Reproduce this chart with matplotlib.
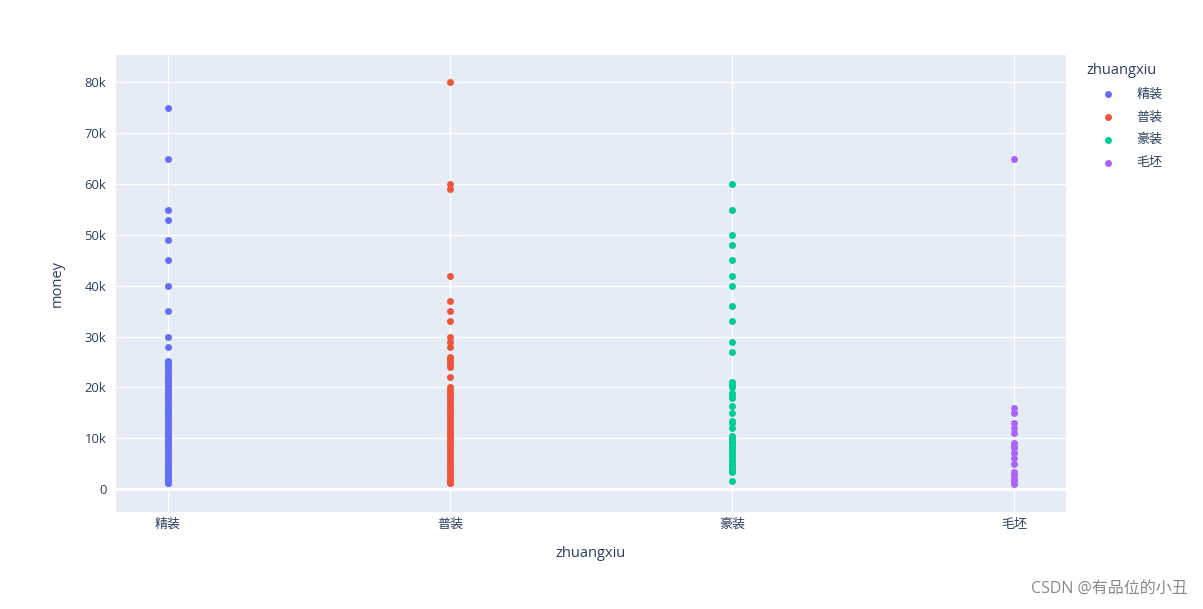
import matplotlib
matplotlib.use("Agg")
import matplotlib.pyplot as plt

plt.rcParams['font.family'] = ['Open Sans', 'Noto Sans CJK SC', 'DejaVu Sans']

categories = ['精装', '普装', '豪装', '毛坯']
colors = ['#636efa', '#EF553B', '#00cc96', '#ab63fa']

jingzhuang = [75000, 65000, 55000, 53000, 49000, 45000, 40000, 35000, 30000, 28000,
              25200, 25000, 24500, 24000, 23500, 23000, 22500, 22000, 21500, 21000,
              20500, 20000, 19500, 19000, 18500, 18000, 17500, 17000, 16500, 16000,
              15500, 15000, 14500, 14000, 13500, 13000, 12500, 12000, 11500, 11000,
              10500, 10000, 9500, 9000, 8500, 8000, 7500, 7000, 6500, 6000, 5500,
              5000, 4500, 4000, 3500, 3000, 2500, 2000, 1800, 1500, 1300, 1200]
puzhuang = [80000, 60000, 59000, 42000, 37000, 35000, 33000, 30000, 29000, 28000,
            26000, 25500, 25000, 24500, 24000, 22000, 20000, 19500, 19000, 18500,
            18000, 17500, 17000, 16500, 16000, 15500, 15000, 14500, 14000, 13500,
            13000, 12500, 12000, 11500, 11000, 10500, 10000, 9500, 9000, 8500, 8000,
            7500, 7000, 6500, 6000, 5500, 5000, 4500, 4000, 3500, 3000, 2500, 2000,
            1800, 1500, 1300, 1200]
haozhuang = [60000, 55000, 50000, 48000, 45000, 42000, 40000, 36000, 33000, 29000,
             27000, 21000, 20500, 20000, 19000, 18500, 18000, 16300, 15000, 13400,
             13000, 12000, 10500, 10000, 9500, 9000, 8500, 8000, 7500, 7000, 6500,
             6000, 5500, 5000, 4500, 4000, 3500, 3300, 1600]
maopi = [65000, 16000, 15000, 13000, 12000, 11000, 9000, 8500, 8000, 7200, 6200, 4900,
         3300, 2800, 2000, 1500, 1000]

series = [jingzhuang, puzhuang, haozhuang, maopi]
yticks = [0, 10000, 20000, 30000, 40000, 50000, 60000, 70000, 80000]
yticklabels = ['0', '10k', '20k', '30k', '40k', '50k', '60k', '70k', '80k']

W, H = 1203, 609
fig = plt.figure(figsize=(W / 100, H / 100), dpi=100)
left, right, top, bottom = 116, 1066, 55, 512
ax = fig.add_axes([left / W, 1 - bottom / H, (right - left) / W, (bottom - top) / H])
ax.set_facecolor('#E5ECF6')
for s in ax.spines.values():
    s.set_visible(False)

handles = []
for i, (cat, vals, col) in enumerate(zip(categories, series, colors)):
    h = ax.scatter([i] * len(vals), vals, s=25, color=col, linewidths=0, zorder=3, label=cat)
    handles.append(h)

ax.set_xlim(-0.184, 3.184)
ax.set_ylim(-4500, 85400)
ax.set_xticks(range(len(categories)))
ax.set_xticklabels(categories)
ax.set_yticks(yticks)
ax.set_yticklabels(yticklabels)
ax.grid(True, color='white', linewidth=1.0, zorder=0)
ax.axhline(0, color='white', linewidth=2, zorder=1)
ax.set_axisbelow(True)
ax.tick_params(axis='both', length=0, labelsize=9.4, colors='#2a3f5f')
ax.tick_params(axis='x', pad=4)
ax.tick_params(axis='y', pad=7)
ax.set_xlabel('zhuangxiu', fontsize=10.5, color='#2a3f5f', labelpad=11)
ax.set_ylabel('money', fontsize=10.5, color='#2a3f5f', labelpad=14)

leg = ax.legend(handles=handles, title='zhuangxiu', loc='upper left',
                bbox_to_anchor=(1.0135, 1.0), frameon=False, fontsize=9.4,
                title_fontsize=10.5, handlelength=3.2, handletextpad=0.6,
                markerscale=1.0, labelspacing=0.75, borderaxespad=0.2)
leg._legend_box.align = 'left'
for t in leg.get_texts():
    t.set_color('#2a3f5f')
leg.get_title().set_color('#2a3f5f')

fig.text(1188 / W, 1 - 589 / H, 'CSDN @有品位的小丑', ha='right', va='center',
         fontsize=11.5, color='#8a8a8a')

fig.savefig('out.png', dpi=100)
